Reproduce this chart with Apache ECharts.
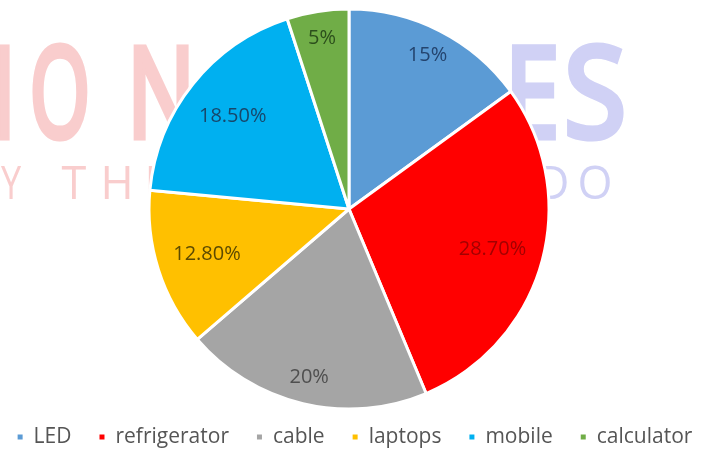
<!DOCTYPE html>
<html>
<head>
<meta charset="utf-8">
<script src="https://cdn.jsdelivr.net/npm/echarts@6/dist/echarts.min.js"></script>
<style>
html, body { margin: 0; padding: 0; background: #fff; }
#chart { width: 708px; height: 451px; }
</style>
</head>
<body>
<div id="chart"></div>
<script>
var categories = ['LED', 'refrigerator', 'cable', 'laptops', 'mobile', 'calculator'];
var shares = [15, 28.7, 20, 12.8, 18.5, 5];
var shareLabels = ['15%', '28.70%', '20%', '12.80%', '18.50%', '5%'];

var sliceColors = ['#5b9bd5', '#ff0000', '#a5a5a5', '#ffc000', '#00b0f0', '#70ad47'];
var labelColors = ['#24446e', '#a30000', '#4f4f4f', '#5c4a00', '#17476b', '#2c4f1c'];
// which labels sit out near the rim (Excel "best fit")
var labelNearRim = [true, false, true, false, false, true];

var R = 200;
var CENTER = [349, 209];

// faded watermark behind the pie
var pink = '#f9cdcd';
var lavender = '#d0d1f5';
var marks = [
    // letter, x, y, fontSize, scaleX, extra stroke, colour
    ['I', 4, 102, 124, 0.64, 7, pink],
    ['O', 60, 102, 124, 0.62, 7, pink],
    ['N', 161, 102, 124, 0.72, 7, pink],
    ['E', 532, 102, 124, 0.78, 7, lavender],
    ['S', 595, 102, 124, 0.9, 7, lavender],
    ['Y', 11, 186, 45, 0.8, 0, pink],
    ['T', 74, 186, 45, 1, 0, pink],
    ['H', 117, 186, 45, 1, 0, pink],
    ['E', 157, 186, 45, 1, 0, pink],
    ['D', 553, 186, 45, 1, 0, lavender],
    ['O', 595, 186, 45, 1, 0, lavender]
];

var graphics = marks.map(function (m) {
    return {
        type: 'text',
        x: m[1],
        y: m[2],
        scaleX: m[4],
        silent: true,
        style: {
            text: m[0],
            fill: m[6],
            stroke: m[5] ? m[6] : null,
            lineWidth: m[5],
            lineJoin: 'round',
            font: m[3] + 'px "Open Sans"',
            textAlign: 'center',
            textVerticalAlign: 'middle'
        }
    };
});

function labelRing(inner, nearRim) {
    return {
        type: 'pie',
        center: CENTER,
        radius: [R * inner, R],
        startAngle: 90,
        clockwise: true,
        silent: true,
        labelLine: { show: false },
        emphasis: { disabled: true },
        itemStyle: { color: 'rgba(0,0,0,0)' },
        data: categories.map(function (c, i) {
            return {
                name: c + ' label',
                value: shares[i],
                label: {
                    show: labelNearRim[i] === nearRim,
                    position: 'inside',
                    formatter: shareLabels[i],
                    fontFamily: 'Open Sans',
                    fontSize: 20,
                    color: labelColors[i]
                }
            };
        })
    };
}

var chart = echarts.init(document.getElementById('chart'));

var option = {
    animation: false,
    graphic: graphics,
    legend: {
        data: categories,
        left: 'center',
        top: 426,
        padding: 0,
        icon: 'rect',
        itemWidth: 7,
        itemHeight: 7,
        itemGap: 26,
        textStyle: {
            fontFamily: 'Open Sans',
            fontSize: 21,
            lineHeight: 22,
            color: '#555555',
            padding: [0, 0, 0, 5]
        }
    },
    series: [
        {
            name: 'share',
            type: 'pie',
            center: CENTER,
            radius: [0, R],
            startAngle: 90,
            clockwise: true,
            silent: true,
            label: { show: false },
            labelLine: { show: false },
            emphasis: { disabled: true },
            itemStyle: {
                borderColor: '#ffffff',
                borderWidth: 3
            },
            data: categories.map(function (c, i) {
                return { name: c, value: shares[i], itemStyle: { color: sliceColors[i] } };
            })
        },
        labelRing(0.7, true),
        labelRing(0.46, false)
    ]
};

chart.setOption(option);
</script>
</body>
</html>
